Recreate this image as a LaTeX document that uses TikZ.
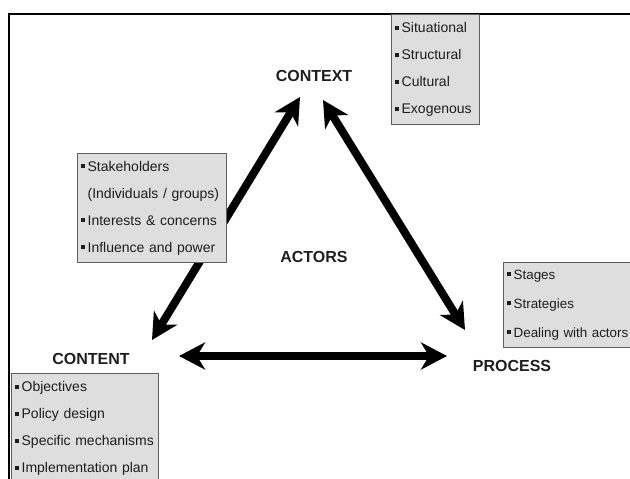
\documentclass[tikz,border=0pt]{standalone}
\usepackage{fontspec}
\setmainfont{Liberation Sans}
\usetikzlibrary{arrows.meta}
\definecolor{boxfill}{RGB}{222,222,222}
\definecolor{boxline}{RGB}{95,95,95}
\definecolor{inktext}{RGB}{30,30,30}
\newcommand{\bul}{\rule[3pt]{4pt}{4pt}\hspace{3pt}}
\newcommand{\nobul}{\hphantom{\rule{4pt}{4pt}\hspace{3pt}}}

\begin{document}
\begin{tikzpicture}[x=1pt, y=-1pt,
    facet/.style={font=\bfseries\fontsize{16}{18}\selectfont, text=inktext, inner sep=0pt},
    listbox/.style={rectangle, draw=boxline, line width=1.3pt, fill=boxfill,
                    anchor=north west, align=left, inner xsep=3pt, inner ysep=0pt,
                    text=inktext, font=\fontsize{14}{27}\selectfont},
    arrow/.style={{Stealth[length=26pt,width=27pt,inset=8pt]}-{Stealth[length=26pt,width=27pt,inset=8pt]},
                  line width=8pt}
  ]
    \useasboundingbox (0,0) rectangle (630,479);
    \draw[line width=2pt] (9,480) -- (9,14) -- (631,14);

    \node[facet] (context) at (314,76)  {CONTEXT};
    \node[facet] (actors)  at (314,257) {ACTORS};
    \node[facet] (process) at (512,366) {PROCESS};
    \node[facet] (content) at (91,359)  {CONTENT};

    \coordinate (ctxL) at ([shift={(-14,21)}]context);
    \coordinate (ctxR) at ([shift={(9,24)}]context);
    \coordinate (cntT) at ([shift={(61,-19)}]content);
    \coordinate (cntR) at ([shift={(88,-3)}]content);
    \coordinate (prcT) at ([shift={(-47,-36)}]process);
    \coordinate (prcL) at ([shift={(-65,-10)}]process);

    \draw[arrow] (ctxL) -- (cntT);
    \draw[arrow] (ctxR) -- (prcT);
    \draw[arrow] (cntR) -- (prcL);

    \node[listbox, minimum width=88pt, minimum height=110pt, text width=82pt] (ctxlist) at (391,14)
      {\bul Situational\\\bul Structural\\\bul Cultural\\\bul Exogenous};
    \node[listbox, minimum width=149pt, minimum height=109pt, text width=143pt] (actlist) at (77,153)
      {\bul Stakeholders\\\nobul(Individuals / groups)\\\bul Interests \& concerns\\\bul Influence and power};
    \node[listbox, minimum width=140pt, minimum height=85pt, text width=134pt, inner xsep=3pt,
          font=\fontsize{13.4}{29}\selectfont] (prclist) at (503,262)
      {\bul Stages\\\bul Strategies\\\bul Dealing with actors};
    \node[listbox, minimum width=147pt, minimum height=110pt, text width=141pt] (cntlist) at (11,373)
      {\bul Objectives\\\bul Policy design\\\bul Specific mechanisms\\\bul Implementation plan};
\end{tikzpicture}
\end{document}
